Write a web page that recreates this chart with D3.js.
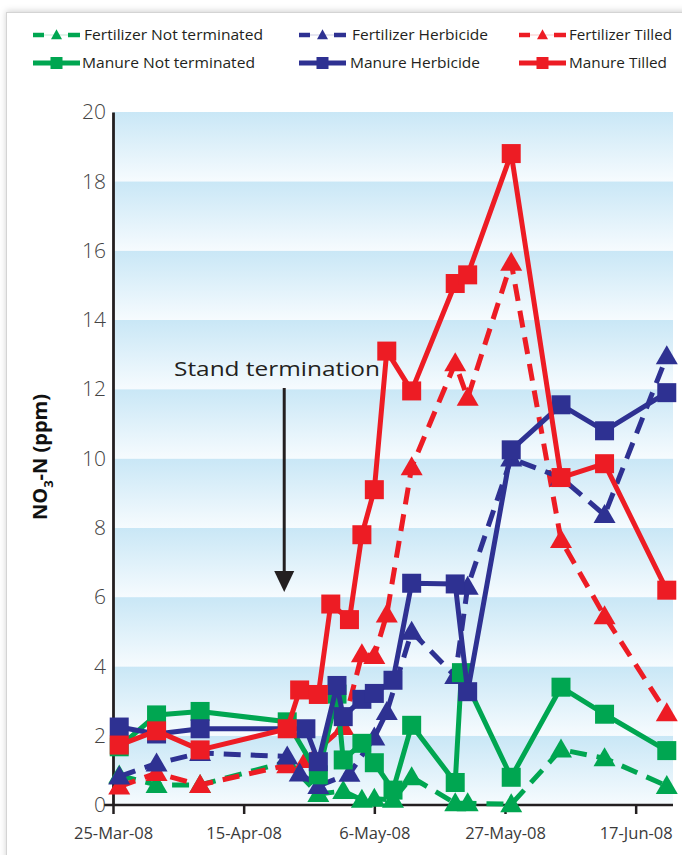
<!DOCTYPE html>
<html><head><meta charset="utf-8">
<script src="https://cdn.jsdelivr.net/npm/d3@7"></script>
<style>
body{margin:0;background:#fff;}
svg{display:block;font-family:"Open Sans","Noto Sans",sans-serif;}
</style>
</head><body>
<svg id="c" width="682" height="855"></svg>
<script>
// ---------------- DATA ----------------
const seriesNames = ["Fertilizer Not terminated","Fertilizer Herbicide","Fertilizer Tilled",
                     "Manure Not terminated","Manure Herbicide","Manure Tilled"];

const fertNTDates  = ["2008-03-26","2008-04-01","2008-04-08","2008-04-22","2008-04-27","2008-05-01","2008-05-04","2008-05-06","2008-05-09","2008-05-12","2008-05-19","2008-05-21","2008-05-28","2008-06-05","2008-06-12","2008-06-22"];
const fertNTValues = [0.85,0.58,0.58,1.25,0.32,0.4,0.15,0.18,0.15,0.8,0.05,0.05,0.02,1.6,1.35,0.55];

const fertHDates   = ["2008-03-26","2008-04-01","2008-04-08","2008-04-22","2008-04-24","2008-04-27","2008-05-02","2008-05-06","2008-05-08","2008-05-12","2008-05-19","2008-05-21","2008-05-28","2008-06-05","2008-06-12","2008-06-22"];
const fertHValues  = [0.82,1.2,1.5,1.4,0.91,0.55,0.9,1.95,2.68,5.0,3.72,6.3,10.0,9.45,8.37,12.95];

const fertTDates   = ["2008-03-26","2008-04-01","2008-04-08","2008-04-22","2008-04-25","2008-05-01","2008-05-04","2008-05-06","2008-05-08","2008-05-12","2008-05-19","2008-05-21","2008-05-28","2008-06-05","2008-06-12","2008-06-22"];
const fertTValues  = [0.53,0.92,0.58,1.15,1.3,2.25,4.35,4.3,5.5,9.75,12.75,11.75,15.65,7.65,5.45,2.65];

const manNTDates   = ["2008-03-26","2008-04-01","2008-04-08","2008-04-22","2008-04-27","2008-04-30","2008-05-01","2008-05-04","2008-05-06","2008-05-09","2008-05-12","2008-05-19","2008-05-20","2008-05-28","2008-06-05","2008-06-12","2008-06-22"];
const manNTValues  = [1.68,2.6,2.7,2.4,0.87,3.2,1.3,1.78,1.22,0.43,2.3,0.65,3.82,0.8,3.4,2.62,1.57];

const manHDates    = ["2008-03-26","2008-04-01","2008-04-08","2008-04-25","2008-04-27","2008-04-30","2008-05-01","2008-05-04","2008-05-06","2008-05-09","2008-05-12","2008-05-19","2008-05-21","2008-05-28","2008-06-05","2008-06-12","2008-06-22"];
const manHValues   = [2.25,2.05,2.2,2.2,1.25,3.45,2.55,3.05,3.22,3.6,6.4,6.38,3.27,10.25,11.55,10.8,11.9];

const manTDates    = ["2008-03-26","2008-04-01","2008-04-08","2008-04-22","2008-04-24","2008-04-27","2008-04-29","2008-05-02","2008-05-04","2008-05-06","2008-05-08","2008-05-12","2008-05-19","2008-05-21","2008-05-28","2008-06-05","2008-06-12","2008-06-22"];
const manTValues   = [1.73,2.14,1.59,2.2,3.32,3.19,5.8,5.35,7.8,9.1,13.1,11.95,15.05,15.3,18.8,9.45,9.85,6.2];

const xTickDates  = ["2008-03-25","2008-04-15","2008-05-06","2008-05-27","2008-06-17"];
const xTickLabels = ["25-Mar-08","15-Apr-08","6-May-08","27-May-08","17-Jun-08"];
const yTicks      = [0,2,4,6,8,10,12,14,16,18,20];
const annotationText = "Stand termination";
const annotationDate = "2008-04-22";

// ---------------- SETUP ----------------
const parse = d3.utcParse("%Y-%m-%d");
const svg = d3.select("#c");
const GREEN = "#00a651", BLUE = "#2e3192", RED = "#ed1c24";

const series = [
  {name: seriesNames[0], dates: fertNTDates, values: fertNTValues, color: GREEN, dash: true,  shape: "tri"},
  {name: seriesNames[2], dates: fertTDates,  values: fertTValues,  color: RED,   dash: true,  shape: "tri"},
  {name: seriesNames[1], dates: fertHDates,  values: fertHValues,  color: BLUE,  dash: true,  shape: "tri"},
  {name: seriesNames[3], dates: manNTDates,  values: manNTValues,  color: GREEN, dash: false, shape: "sq"},
  {name: seriesNames[4], dates: manHDates,   values: manHValues,   color: BLUE,  dash: false, shape: "sq"},
  {name: seriesNames[5], dates: manTDates,   values: manTValues,   color: RED,   dash: false, shape: "sq"}
];

const x = d3.scaleUtc().domain([parse("2008-03-25"), parse("2008-06-23")]).range([113, 673]);
const y = d3.scaleLinear().domain([0, 20]).range([805, 112]);

// defs
const defs = svg.append("defs");
const grad = defs.append("linearGradient").attr("id","band").attr("x1",0).attr("y1",0).attr("x2",0).attr("y2",1);
grad.append("stop").attr("offset","0%").attr("stop-color","#c9e7f6");
grad.append("stop").attr("offset","100%").attr("stop-color","#f6fbfe");
const flt = defs.append("filter").attr("id","sh").attr("x","-5%").attr("y","-5%").attr("width","110%").attr("height","110%");
flt.append("feDropShadow").attr("dx",0).attr("dy",-1).attr("stdDeviation",3).attr("flood-color","#000").attr("flood-opacity",0.18);

// frame
svg.append("rect").attr("x",6.5).attr("y",12.5).attr("width",720).attr("height",900)
  .attr("fill","#fff").attr("stroke","#d4d4d4").attr("filter","url(#sh)");

// background bands
const bandVals = yTicks.slice(0, -1);
svg.append("g").selectAll("rect").data(bandVals).join("rect")
  .attr("x", x.range()[0]).attr("width", x.range()[1] - x.range()[0])
  .attr("y", d => y(d + 2)).attr("height", d => y(d) - y(d + 2))
  .attr("fill", "url(#band)");

// x axis
const xAxis = d3.axisBottom(x)
  .tickValues(xTickDates.map(parse))
  .tickFormat((d, i) => xTickLabels[i])
  .tickSize(9).tickSizeOuter(0).tickPadding(13);
const gx = svg.append("g").attr("transform", `translate(0,${y(0)})`).call(xAxis);
gx.select(".domain").remove();
gx.selectAll(".tick line").attr("stroke", "#231f20").attr("stroke-width", 2.5);
gx.selectAll(".tick text").attr("fill", "#3a3a3a")
  .style("font-family", "'Open Sans','Noto Sans',sans-serif").style("font-size", "16.5px");
svg.append("line").attr("x1", 104).attr("x2", 673).attr("y1", y(0)).attr("y2", y(0))
  .attr("stroke", "#231f20").attr("stroke-width", 2.5);

// y axis
const yAxis = d3.axisLeft(y).tickValues(yTicks).tickSize(0).tickPadding(7);
const gy = svg.append("g").attr("transform", `translate(${x.range()[0]},0)`).call(yAxis);
gy.select(".domain").attr("stroke", "#231f20").attr("stroke-width", 2.8);
gy.selectAll(".tick text").attr("fill", "#444")
  .style("font-family", "'Open Sans','Noto Sans',sans-serif").style("font-size", "21px").style("font-weight", 300);

// y title
const yt = svg.append("text").attr("transform", "translate(47,457) rotate(-90)")
  .attr("text-anchor", "middle").attr("fill", "#111")
  .style("font-size", "20px").style("font-weight", "bold");
yt.append("tspan").text("NO");
yt.append("tspan").text("3").style("font-size", "13px").attr("dy", 6);
yt.append("tspan").text("-N (ppm)").attr("dy", -6);

// annotation
const ax = x(parse(annotationDate)) - 3;
svg.append("text").attr("x", 174).attr("y", 376).attr("fill", "#231f20")
  .style("font-size", "20px").text(annotationText)
  .attr("textLength", 206).attr("lengthAdjust", "spacingAndGlyphs");
svg.append("line").attr("x1", ax).attr("x2", ax).attr("y1", 388).attr("y2", 574)
  .attr("stroke", "#231f20").attr("stroke-width", 3);
svg.append("path").attr("d", `M${ax-10},571 L${ax+10},571 L${ax},592 Z`).attr("fill", "#231f20");

// series
const line = d3.line().x(d => x(d.date)).y(d => y(d.v));
const triPath = (w, h) => `M0,${-h*0.58} L${w/2},${h*0.42} L${-w/2},${h*0.42} Z`;

series.forEach(s => {
  const pts = s.dates.map((d, i) => ({date: parse(d), v: s.values[i]}));
  const g = svg.append("g");
  g.append("path").datum(pts).attr("d", line).attr("fill", "none")
    .attr("stroke", s.color).attr("stroke-width", 5)
    .attr("stroke-dasharray", s.dash ? "17,10" : null)
    .attr("stroke-linejoin", "round");
  if (s.shape === "sq") {
    g.selectAll("rect").data(pts).join("rect")
      .attr("x", d => x(d.date) - 9.5).attr("y", d => y(d.v) - 9.5)
      .attr("width", 19).attr("height", 19).attr("fill", s.color);
  } else {
    g.selectAll("path.m").data(pts).join("path").attr("class", "m")
      .attr("transform", d => `translate(${x(d.date)},${y(d.v)})`)
      .attr("d", triPath(22, 19)).attr("fill", s.color);
  }
});

// legend
const legendItems = [
  {s: 0, lx: 33, tx: 84, ty: 35, tw: 179, color: GREEN, dash: true},
  {s: 1, lx: 299, tx: 352, ty: 35, tw: 136, color: BLUE, dash: true},
  {s: 2, lx: 519, tx: 569, ty: 35, tw: 103, color: RED, dash: true},
  {s: 3, lx: 33, tx: 82, ty: 63, tw: 173, color: GREEN, dash: false},
  {s: 4, lx: 299, tx: 350, ty: 63, tw: 130, color: BLUE, dash: false},
  {s: 5, lx: 519, tx: 569, ty: 63, tw: 98, color: RED, dash: false}
];
const lg = svg.append("g");
legendItems.forEach(it => {
  const g = lg.append("g");
  const x0 = it.lx, x1 = it.lx + 47, xm = (x0 + x1) / 2;
  if (it.dash) {
    g.append("line").attr("x1", x0).attr("x2", x1).attr("y1", it.ty).attr("y2", it.ty)
      .attr("stroke", it.color).attr("stroke-width", 1).attr("stroke-opacity", 0.25);
    [[x0, x0 + 11], [x1 - 12, x1]].forEach(([a, b]) =>
      g.append("line").attr("x1", a).attr("x2", b).attr("y1", it.ty).attr("y2", it.ty)
        .attr("stroke", it.color).attr("stroke-width", 4.5));
    g.append("path").attr("transform", `translate(${xm},${it.ty})`).attr("d", triPath(11, 10)).attr("fill", it.color);
  } else {
    g.append("line").attr("x1", x0).attr("x2", x1).attr("y1", it.ty).attr("y2", it.ty)
      .attr("stroke", it.color).attr("stroke-width", 5);
    g.append("rect").attr("x", xm - 6).attr("y", it.ty - 6).attr("width", 12).attr("height", 12).attr("fill", it.color);
  }
  g.append("text").attr("x", it.tx).attr("y", it.ty).attr("dy", "0.36em")
    .attr("fill", "#231f20").style("font-size", "15px")
    .attr("textLength", it.tw).attr("lengthAdjust", "spacingAndGlyphs")
    .text(seriesNames[it.s]);
});
</script>
</body></html>
